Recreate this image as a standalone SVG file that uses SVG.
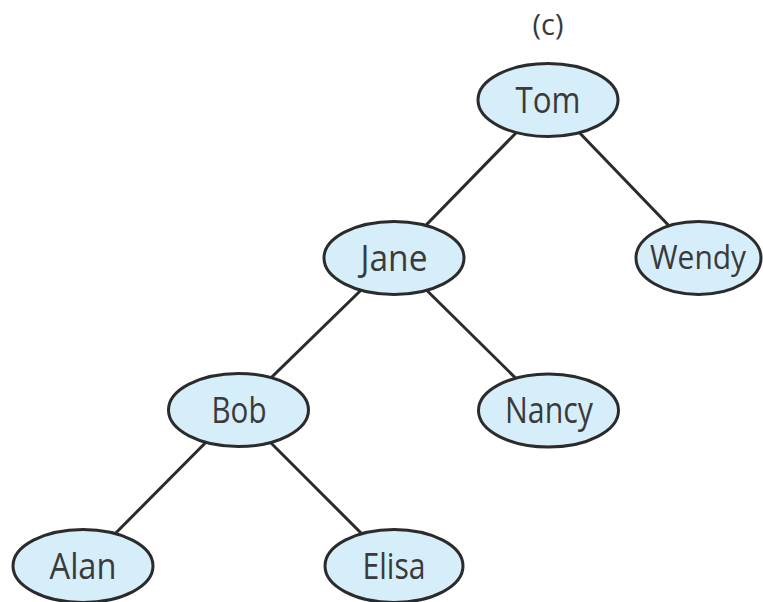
<svg xmlns="http://www.w3.org/2000/svg" width="763" height="602" viewBox="0 0 763 602">
<style>
.n ellipse{fill:#d5eefa;stroke:#2b2b2b;stroke-width:3}
.n text,.t{font-family:"Open Sans","DejaVu Sans",sans-serif;font-size:36px;fill:#3a3a3a;text-anchor:middle}
.e line{stroke:#2b2b2b;stroke-width:3}
</style>
<rect width="763" height="602" fill="#fff"/>
<text class="t" x="548" y="35" style="font-size:29px">(c)</text>
<g class="e" id="connectors">
<line x1="548" y1="100" x2="394" y2="258"/>
<line x1="548" y1="100" x2="700" y2="258"/>
<line x1="394" y1="258" x2="238" y2="410"/>
<line x1="394" y1="258" x2="548" y2="410"/>
<line x1="238" y1="410" x2="83" y2="566"/>
<line x1="238" y1="410" x2="394" y2="566"/>
</g>
<g class="n" id="tom"><ellipse cx="548" cy="100" rx="70" ry="36.5"/><text x="548" y="113" textLength="65" lengthAdjust="spacingAndGlyphs">Tom</text></g>
<g class="n" id="jane"><ellipse cx="394" cy="258" rx="70" ry="36.5"/><text x="394" y="271" textLength="67" lengthAdjust="spacingAndGlyphs">Jane</text></g>
<g class="n" id="wendy"><ellipse cx="698.5" cy="258" rx="62.5" ry="36.5"/><text x="698" y="269" style="font-size:33px" textLength="96" lengthAdjust="spacingAndGlyphs">Wendy</text></g>
<g class="n" id="bob"><ellipse cx="238.5" cy="410" rx="70" ry="36.5"/><text x="239" y="423" textLength="55" lengthAdjust="spacingAndGlyphs">Bob</text></g>
<g class="n" id="nancy"><ellipse cx="548.5" cy="410.5" rx="70" ry="36.5"/><text x="549" y="423" textLength="88" lengthAdjust="spacingAndGlyphs">Nancy</text></g>
<g class="n" id="alan"><ellipse cx="83" cy="566" rx="70" ry="36.5"/><text x="83" y="579" textLength="67" lengthAdjust="spacingAndGlyphs">Alan</text></g>
<g class="n" id="elisa"><ellipse cx="394" cy="566" rx="69" ry="36.5"/><text x="394" y="579" textLength="63" lengthAdjust="spacingAndGlyphs">Elisa</text></g>
</svg>
